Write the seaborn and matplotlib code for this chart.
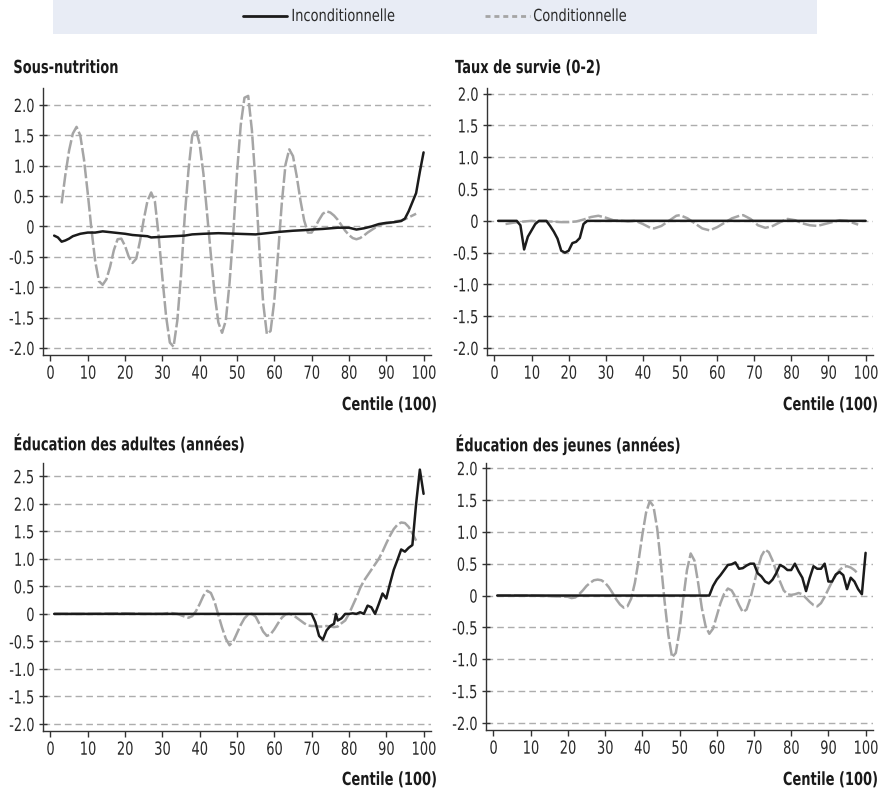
import numpy as np
import pandas as pd
import seaborn as sns
import matplotlib.pyplot as plt
from matplotlib.lines import Line2D
from matplotlib.patches import Rectangle
from matplotlib.ticker import FuncFormatter
from matplotlib.patheffects import AbstractPathEffect
from matplotlib.transforms import Affine2D

sns.set_style("white")
plt.rcParams['font.family'] = ['DejaVu Sans']

"""Data read off the chart"""

# Sous-nutrition
p1_unc_x = [1, 2, 3, 4, 5, 6, 8, 10, 12, 14, 17, 20, 22, 24, 26, 27, 30, 33, 36, 38, 41, 45, 50, 55, 58, 61,
            65, 68, 70, 73, 77, 80, 82, 84, 86, 88, 90, 92, 94, 95, 96, 97, 98, 99, 100]
p1_unc_y = [-0.15, -0.18, -0.25, -0.23, -0.20, -0.16, -0.12, -0.10, -0.10, -0.08, -0.10, -0.12, -0.14, -0.15,
            -0.16, -0.18, -0.17, -0.16, -0.15, -0.13, -0.12, -0.11, -0.12, -0.13, -0.11, -0.09,
            -0.07, -0.06, -0.05, -0.04, -0.02, -0.02, -0.05, -0.03, 0.00, 0.04, 0.06, 0.07, 0.09, 0.13,
            0.25, 0.40, 0.55, 0.90, 1.22]
p1_con_x = list(range(3, 99))
p1_con_y = [0.38, 0.85, 1.25, 1.53, 1.64, 1.50, 1.10, 0.55, -0.05, -0.57, -0.90, -0.96, -0.87, -0.66, -0.39,
            -0.21, -0.20, -0.32, -0.50, -0.60, -0.53, -0.24, 0.11, 0.42, 0.56, 0.41, -0.15, -0.84, -1.48,
            -1.91, -1.98, -1.55, -0.80, 0.17, 0.93, 1.50, 1.60, 1.35, 0.87, 0.20, -0.47, -1.11, -1.58,
            -1.75, -1.55, -0.93, -0.10, 0.88, 1.67, 2.12, 2.15, 1.58, 0.70, -0.37, -1.25, -1.77, -1.72,
            -1.22, -0.45, 0.38, 1.02, 1.27, 1.16, 0.83, 0.43, 0.10, -0.10, -0.10, 0.00, 0.11, 0.21, 0.25,
            0.23, 0.18, 0.11, 0.02, -0.07, -0.14, -0.19, -0.21, -0.19, -0.15, -0.10, -0.06, -0.02, 0.01,
            0.04, 0.05, 0.06, 0.08, 0.09, 0.10, 0.12, 0.15, 0.18, 0.21]

# Taux de survie (0-2)
p2_unc_x = [1, 6, 7, 8, 9, 10, 11, 12, 14, 15, 16, 17, 18, 19, 20, 21, 22, 23, 24, 25, 100]
p2_unc_y = [0, 0, -0.07, -0.45, -0.25, -0.15, -0.05, 0, 0, -0.08, -0.17, -0.28, -0.47, -0.50, -0.47,
            -0.35, -0.33, -0.27, -0.05, 0, 0]
p2_con_x = [3, 5, 8, 10, 12, 15, 18, 20, 22, 24, 26, 28, 30, 32, 34, 36, 38, 40, 42, 43, 45, 47, 49, 50,
            52, 54, 56, 58, 60, 62, 64, 66, 67, 69, 71, 73, 75, 77, 79, 81, 83, 85, 87, 89, 91, 93, 95,
            97, 98]
p2_con_y = [-0.05, -0.03, -0.01, 0, -0.01, -0.01, -0.02, -0.02, -0.01, 0.02, 0.06, 0.08, 0.05, 0.01, 0,
            -0.01, 0, -0.05, -0.11, -0.12, -0.08, 0, 0.08, 0.09, 0.04, -0.04, -0.12, -0.15, -0.10, -0.03,
            0.04, 0.08, 0.09, 0.03, -0.07, -0.11, -0.08, -0.02, 0.03, 0.01, -0.04, -0.07, -0.08, -0.05,
            -0.02, 0.01, 0, -0.04, -0.06]

# Éducation des adultes (années)
p3_unc_x = [1, 70, 71, 72, 73, 74, 75, 76, 76.5, 77, 78, 79, 80, 81, 82, 83, 84, 85, 86, 87, 88, 89,
            90, 91, 92, 93, 94, 95, 96, 97, 98, 99, 100]
p3_unc_y = [0, 0, -0.15, -0.40, -0.47, -0.30, -0.22, -0.18, 0.0, -0.12, -0.08, 0.0, 0.0, 0.01, 0.0, 0.03,
            0.0, 0.15, 0.12, 0.0, 0.18, 0.37, 0.28, 0.55, 0.80, 0.98, 1.17, 1.13, 1.20, 1.25, 2.00, 2.62,
            2.18]
p3_con_x = [1, 10, 20, 25, 30, 32, 34] + list(range(36, 99))
p3_con_y = [0, 0, 0.01, 0, 0.0, 0.02, 0.0,
            -0.05, -0.07, -0.04, 0.05, 0.18, 0.33, 0.42, 0.38, 0.22,
            -0.02, -0.25, -0.45, -0.57, -0.50, -0.35, -0.20, -0.08, -0.01, 0.0, -0.05, -0.18, -0.32,
            -0.40, -0.37, -0.28, -0.17, -0.07, -0.01, 0.0, -0.02, -0.07, -0.12, -0.17, -0.21, -0.22,
            -0.22, -0.23, -0.23, -0.22, -0.23, -0.24, -0.23, -0.17, -0.12, 0.0, 0.15, 0.30, 0.47, 0.60,
            0.70, 0.80, 0.90, 1.00, 1.13, 1.28, 1.42, 1.54, 1.62, 1.66, 1.65, 1.58, 1.46, 1.33]

# Éducation des jeunes (années)
p4_unc_x = [1] + list(range(58, 101))
p4_unc_y = [0, 0, 0.15, 0.25, 0.32, 0.40, 0.48, 0.49, 0.52, 0.42, 0.43, 0.47, 0.50, 0.50, 0.35, 0.30,
            0.22, 0.19, 0.25, 0.35, 0.48, 0.45, 0.40, 0.40, 0.50, 0.38, 0.28, 0.07, 0.28, 0.46, 0.42,
            0.42, 0.50, 0.22, 0.22, 0.33, 0.37, 0.32, 0.10, 0.28, 0.22, 0.10, 0.02, 0.67]
p4_con_x = [1, 10, 15, 20] + list(range(21, 99))
p4_con_y = [0, 0, -0.01, -0.02, -0.04, -0.03, 0.02, 0.08, 0.15, 0.20, 0.24, 0.25, 0.24, 0.20, 0.13,
            0.04, -0.06, -0.14, -0.19, -0.17, -0.05, 0.20, 0.55, 0.95, 1.30, 1.48, 1.40, 1.05, 0.50,
            -0.10, -0.62, -0.97, -0.90, -0.55, -0.05, 0.40, 0.66, 0.55, 0.20, -0.20, -0.48, -0.60,
            -0.52, -0.32, -0.12, 0.03, 0.11, 0.08, -0.02, -0.15, -0.26, -0.22, -0.05, 0.18, 0.42, 0.62,
            0.72, 0.68, 0.55, 0.38, 0.22, 0.08, 0.02, 0.01, 0.02, 0.04, 0.02, -0.04, -0.10, -0.15,
            -0.17, -0.12, -0.02, 0.10, 0.22, 0.32, 0.40, 0.45, 0.46, 0.44, 0.40, 0.34]

titles = ['Sous-nutrition', 'Taux de survie (0-2)',
          'Éducation des adultes (années)', 'Éducation des jeunes (années)']
yticks_sets = [[-2, -1.5, -1, -0.5, 0, 0.5, 1, 1.5, 2],
               [-2, -1.5, -1, -0.5, 0, 0.5, 1, 1.5, 2],
               [-2, -1.5, -1, -0.5, 0, 0.5, 1, 1.5, 2, 2.5],
               [-2, -1.5, -1, -0.5, 0, 0.5, 1, 1.5, 2]]
ylims = [(-2.115, 2.28), (-2.11, 2.09), (-2.127, 2.74), (-2.11, 2.08)]
xticks = list(range(0, 101, 10))
legend_labels = ['Inconditionnelle', 'Conditionnelle']

series = [(p1_unc_x, p1_unc_y, p1_con_x, p1_con_y),
          (p2_unc_x, p2_unc_y, p2_con_x, p2_con_y),
          (p3_unc_x, p3_unc_y, p3_con_x, p3_con_y),
          (p4_unc_x, p4_unc_y, p4_con_x, p4_con_y)]

BLACK = '#1b1b1b'
GREY = '#a5a5a5'
TXT = '#2a2a2a'


class Condense(AbstractPathEffect):
    """Squeeze text horizontally (the reference uses a condensed face)."""

    def __init__(self, sx=0.72, anchor='center'):
        super().__init__()
        self.sx = sx
        self.anchor = anchor

    def draw_path(self, renderer, gc, tpath, affine, rgbFace=None):
        ext = tpath.get_extents(affine)
        if self.anchor == 'left':
            x0 = ext.x0
        elif self.anchor == 'right':
            x0 = ext.x1
        else:
            x0 = 0.5 * (ext.x0 + ext.x1)
        squeeze = Affine2D().translate(-x0, 0).scale(self.sx, 1).translate(x0, 0)
        renderer.draw_path(gc, tpath, affine + squeeze, rgbFace)


fig = plt.figure(figsize=(8.84, 7.92), dpi=100)

positions = [[0.0486, 0.5518, 0.439, 0.3371],
             [0.5509, 0.5518, 0.4367, 0.3371],
             [0.0486, 0.0770, 0.439, 0.3384],
             [0.5498, 0.0783, 0.4378, 0.3371]]

# title / xlabel anchors (figure fraction)
title_pos = [(0.0147, 0.9141), (0.5147, 0.9141), (0.0147, 0.4381), (0.5147, 0.4381)]
xlab_pos = [(0.4943, 0.4886), (0.9932, 0.4886), (0.4943, 0.0152), (0.9932, 0.0152)]

fmt = FuncFormatter(lambda v, p: '0' if abs(v) < 1e-9 else '%.1f' % v)

for i, (ux, uy, cx, cy) in enumerate(series):
    ax = fig.add_axes(positions[i])
    df_c = pd.DataFrame({'x': cx, 'y': cy})
    df_u = pd.DataFrame({'x': ux, 'y': uy})

    for yt in yticks_sets[i]:
        ax.axhline(yt, color='#adadad', lw=1.0, ls=(0, (4.8, 2.9)), zorder=0)

    sns.lineplot(data=df_c, x='x', y='y', color=GREY, lw=1.8, ax=ax, legend=False,
                 sort=False, estimator=None)
    ax.lines[-1].set_dashes((5.5, 1.2))
    sns.lineplot(data=df_u, x='x', y='y', color=BLACK, lw=1.8, ax=ax, legend=False,
                 sort=False, estimator=None)

    ax.set_xlim(-2, 102)
    ax.set_ylim(*ylims[i])
    ax.set_xticks(xticks)
    ax.set_yticks(yticks_sets[i])
    ax.yaxis.set_major_formatter(fmt)
    ax.set_xlabel('')
    ax.set_ylabel('')
    for s in ['top', 'right']:
        ax.spines[s].set_visible(False)
    for s in ['left', 'bottom']:
        ax.spines[s].set_color('#333333')
        ax.spines[s].set_linewidth(1.0)
    ax.tick_params(axis='x', labelsize=13, colors='#333333', labelcolor=TXT, length=4,
                   width=1.0, direction='out', bottom=True, pad=3)
    ax.tick_params(axis='y', labelsize=13, colors='#333333', labelcolor=TXT, length=6,
                   width=1.0, direction='inout', left=True, pad=3)
    for lab in ax.get_xticklabels():
        lab.set_path_effects([Condense(0.72, 'center')])
    for lab in ax.get_yticklabels():
        lab.set_path_effects([Condense(0.72, 'right')])

    fig.text(title_pos[i][0], title_pos[i][1], titles[i], fontsize=13, fontweight='bold',
             ha='left', va='center', color='#1a1a1a',
             path_effects=[Condense(0.72, 'left')])
    fig.text(xlab_pos[i][0], xlab_pos[i][1], 'Centile (100)', fontsize=13, fontweight='bold',
             ha='right', va='center', color='#1a1a1a',
             path_effects=[Condense(0.72, 'right')])

# Legend band at the top
yl = 1 - 16 / 792
fig.patches.append(Rectangle((53 / 884, 1 - 34 / 792), 764 / 884, 34 / 792, transform=fig.transFigure,
                             facecolor='#e8ecf5', edgecolor='none', zorder=0))
fig.add_artist(Line2D([243 / 884, 287 / 884], [yl, yl], transform=fig.transFigure,
                      color=BLACK, lw=2.0))
fig.add_artist(Line2D([485 / 884, 530 / 884], [yl, yl], transform=fig.transFigure,
                      color=GREY, lw=2.0, ls=(0, (1.8, 1.4))))
fig.text(291 / 884, yl, legend_labels[0], fontsize=12, ha='left', va='center', color=TXT,
         path_effects=[Condense(0.78, 'left')])
fig.text(533 / 884, yl, legend_labels[1], fontsize=12, ha='left', va='center', color=TXT,
         path_effects=[Condense(0.78, 'left')])

plt.savefig('out.png', dpi=100)
